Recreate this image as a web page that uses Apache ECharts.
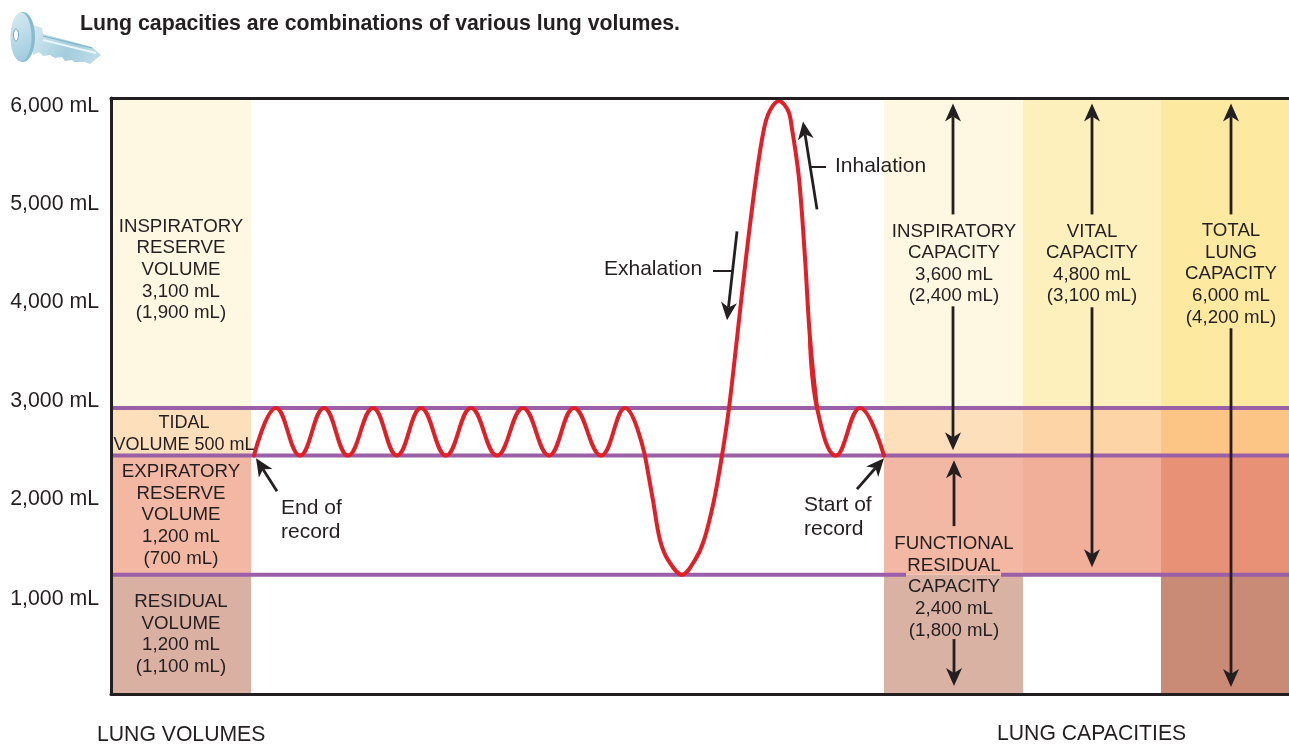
<!DOCTYPE html>
<html><head><meta charset="utf-8">
<style>html,body{margin:0;padding:0;background:#fff}#c{width:1289px;height:744px}</style>
<script src="https://cdn.jsdelivr.net/npm/echarts@6/dist/echarts.min.js"></script>
</head><body><div id="c"></div>
<script>
// ---- Data (x = arbitrary record position, y = lung volume in mL) ----
const yTicks = [0, 1000, 2000, 3000, 4000, 5000, 6000];
const levels = { residual: 1200, functional: 2400, tidalTop: 2880, top: 6000 };

// Columns of the shaded bands: [xStart, xEnd, colours bottom-to-top]
const columnVolumes  = [0, 140, ['#d9b0a2', '#f3b8a4', '#fedfbc', '#fef7e1']];
const columnInspFunc = [773, 912, ['#dab2a4', '#f3b8a4', '#fedfbc', '#fef7e1']];
const columnVital    = [912, 1050, ['#ffffff', '#f1af99', '#fdd4a6', '#fef0bd']];
const columnTotal    = [1050, 1178, ['#c98a76', '#e99176', '#fcc585', '#fee9a0']];

// Spirometer trace, in three stretches: quiet breathing, the deep breath, the last quiet breath
const quietX = [143, 165, 189, 213, 237, 262, 286, 310, 335, 360, 386, 412, 438, 463, 490, 514, 534];
const quietY = [2400, 2880, 2400, 2880, 2400, 2880, 2400, 2880, 2400, 2880, 2400, 2880, 2400, 2880, 2400, 2880, 2400];
const deepX = [534, 542, 549, 557, 571, 584, 593, 603, 611, 618, 626, 635, 645, 653, 659, 668, 677, 681, 688, 694, 699, 706];
const deepY = [2400, 1950, 1550, 1350, 1200, 1350, 1550, 1950, 2400, 2880, 3580, 4390, 5190, 5690, 5875, 5970, 5875, 5690, 5190, 4390, 3580, 2880];
const lastX = [699, 706, 725, 749, 773];
const lastY = [3580, 2880, 2400, 2880, 2400];

// Arrows as [fromX, fromY, toX, toY]
const arrows = [
  [842, 4828, 842, 5945], [842, 3903, 842, 2454],
  [843, 1690, 843, 2354], [843, 553, 843, 80],
  [981, 4828, 981, 5945], [981, 3893, 981, 1277],
  [1120, 4828, 1120, 5945], [1120, 3682, 1120, 70],
  [166, 2042, 145, 2374], [746, 2062, 773, 2374],
  [706, 4879, 692, 5764], [626, 4657, 616, 3762]
];
const leaders = [[700, 5311, 715, 5311], [602, 4265, 622, 4265]];

// Text annotations: text, x, y, align, fontSize, lineHeight
const notes = [
  ['INSPIRATORY\nRESERVE\nVOLUME\n3,100 mL\n(1,900 mL)', 70, 4270, 'center', 18.7, 21.6],
  ['TIDAL\nVOLUME 500 mL', 73, 2620, 'center', 18, 21.6],
  ['EXPIRATORY\nRESERVE\nVOLUME\n1,200 mL\n(700 mL)', 70, 1800, 'center', 18.7, 21.6],
  ['RESIDUAL\nVOLUME\n1,200 mL\n(1,100 mL)', 70, 600, 'center', 18.7, 21.6],
  ['End of\nrecord', 170, 1750, 'left', 21, 23.5],
  ['Start of\nrecord', 693, 1780, 'left', 21, 23.5],
  ['Inhalation', 724, 5311, 'left', 21, 23],
  ['Exhalation', 493, 4280, 'left', 21, 23],
  ['INSPIRATORY\nCAPACITY\n3,600 mL\n(2,400 mL)', 843, 4330, 'center', 18.7, 21.6],
  ['VITAL\nCAPACITY\n4,800 mL\n(3,100 mL)', 981, 4330, 'center', 18.7, 21.6],
  ['TOTAL\nLUNG\nCAPACITY\n6,000 mL\n(4,200 mL)', 1120, 4225, 'center', 18.7, 21.6],
  ['FUNCTIONAL\nRESIDUAL\nCAPACITY\n2,400 mL\n(1,800 mL)', 843, 1075, 'center', 18.7, 21.6]
];
const headline = 'Lung capacities are combinations of various lung volumes.';
const footerLeft = 'LUNG VOLUMES';
const footerRight = 'LUNG CAPACITIES';

// ---- Build ----
const FONT = '"Liberation Sans", Arial, Helvetica, sans-serif';
const INK = '#231f20';
const PURPLE = '#9b5fa8';
const steps = [0, levels.residual, levels.functional, levels.tidalTop, levels.top];
const bandData = [];
[columnVolumes, columnInspFunc, columnVital, columnTotal].forEach(c => {
  c[2].forEach((col, i) => bandData.push({ value: [c[0], c[1], steps[i], steps[i + 1]], color: col }));
});

function arrowItem(p, api) {
  const a = arrows[p.dataIndex];
  const s = api.coord([a[0], a[1]]), t = api.coord([a[2], a[3]]);
  const dx = t[0] - s[0], dy = t[1] - s[1], len = Math.hypot(dx, dy), ux = dx / len, uy = dy / len;
  const L = 18, W = 8, N = 13;
  const pt = (back, side) => [t[0] - ux * back - uy * side, t[1] - uy * back + ux * side];
  return {
    type: 'group',
    children: [
      { type: 'line', shape: { x1: s[0], y1: s[1], x2: pt(N, 0)[0], y2: pt(N, 0)[1] }, style: { stroke: INK, lineWidth: 2.8 } },
      { type: 'polygon', shape: { points: [t, pt(L, W), pt(N, 0), pt(L, -W)] }, style: { fill: INK } }
    ]
  };
}

// Each stretch of the trace is a smooth path through its read points, placed by the axes.
const stretches = [[quietX, quietY, 0.42], [deepX, deepY, 0.35], [lastX, lastY, 0.42]];
const traceData = [];
stretches.forEach(s => s[0].forEach((x, i) => traceData.push([x, s[1][i]])));
function traceItem(p, api) {
  if (p.dataIndex !== 0) return null;
  return {
    type: 'group',
    children: stretches.map(s => ({
      type: 'polyline',
      shape: { points: s[0].map((x, i) => api.coord([x, s[1][i]])), smooth: s[2] },
      style: { stroke: '#e01f26', lineWidth: 4, fill: null, lineJoin: 'round', lineCap: 'round' }
    }))
  };
}

// Tick labels sit slightly below their nominal level in the reference, more so near the top.
const tickStyle = v => v >= 6000 ? 't6' : v >= 5000 ? 't5' : v >= 3000 ? 't3' : 't1';
const tickRich = {};
[['t6', 17], ['t5', 13], ['t3', 11], ['t1', 8]].forEach(([k, h]) => {
  tickRich[k] = { fontFamily: FONT, fontSize: 21.3, color: INK, lineHeight: h };
});

const chart = echarts.init(document.getElementById('c'), null, { renderer: 'canvas' });
chart.setOption({
  animation: false,
  backgroundColor: '#fff',
  title: {
    text: headline, left: 75, top: 7,
    textStyle: { fontFamily: FONT, fontWeight: 'bold', fontSize: 21.3, color: INK, lineHeight: 24 }
  },
  grid: { left: 111, top: 98, right: 0, bottom: 50, containLabel: false },
  xAxis: [
    { type: 'value', min: 0, max: 1178, position: 'bottom', z: 10, axisLine: { lineStyle: { color: INK, width: 3 } }, axisTick: { show: false }, axisLabel: { show: false }, splitLine: { show: false } },
    { type: 'value', min: 0, max: 1178, position: 'top', z: 10, axisLine: { show: true, lineStyle: { color: INK, width: 3 } }, axisTick: { show: false }, axisLabel: { show: false }, splitLine: { show: false } }
  ],
  yAxis: {
    type: 'value', min: yTicks[0], max: yTicks[yTicks.length - 1], interval: 1000, z: 10,
    axisLine: { show: true, lineStyle: { color: INK, width: 3 } },
    axisTick: { show: false }, splitLine: { show: false },
    axisLabel: {
      showMinLabel: false, margin: 12, verticalAlign: 'top', rich: tickRich,
      fontFamily: FONT, fontSize: 21.3, color: INK,
      formatter: v => v === 0 ? '' : '{' + tickStyle(v) + '|' + v.toLocaleString('en-US') + ' mL}'
    }
  },
  series: [
    {
      type: 'custom', z: 1, clip: false, encode: { x: [0, 1], y: [2, 3] }, data: bandData,
      renderItem: (p, api) => {
        const a = api.coord([api.value(0), api.value(2)]), b = api.coord([api.value(1), api.value(3)]);
        return { type: 'rect', shape: { x: a[0], y: b[1], width: b[0] - a[0], height: a[1] - b[1] }, style: { fill: bandData[p.dataIndex].color } };
      }
    },
    {
      type: 'line', z: 3, showSymbol: false, symbol: 'none', connectNulls: false,
      lineStyle: { color: PURPLE, width: 4 },
      data: [[0, levels.tidalTop], [1178, levels.tidalTop]]
    },
    {
      type: 'line', z: 3, showSymbol: false, symbol: 'none',
      lineStyle: { color: PURPLE, width: 4 },
      data: [[0, levels.functional], [1178, levels.functional]]
    },
    {
      type: 'line', z: 3, showSymbol: false, symbol: 'none', connectNulls: false,
      lineStyle: { color: PURPLE, width: 4 },
      data: [[0, levels.residual], [795, levels.residual], [795, null], [890, null], [890, levels.residual], [1178, levels.residual]]
    },
    {
      type: 'custom', z: 4, clip: false, encode: { x: 0, y: 1 },
      data: traceData, renderItem: traceItem
    },
    {
      type: 'custom', z: 5, clip: false, encode: { x: [0, 2], y: [1, 3] },
      data: arrows, renderItem: arrowItem
    },
    {
      type: 'lines', coordinateSystem: 'cartesian2d', z: 5,
      symbol: 'none',
      lineStyle: { color: INK, width: 2, opacity: 1, curveness: 0 },
      data: leaders.map(a => ({ coords: [[a[0], a[1]], [a[2], a[3]]] }))
    },
    {
      type: 'custom', z: 6, clip: false, encode: { x: 0, y: 1 },
      data: notes.map(n => [n[1], n[2]]),
      renderItem: (p, api) => {
        const n = notes[p.dataIndex], c = api.coord([n[1], n[2]]);
        return {
          type: 'text', x: c[0], y: c[1],
          style: { text: n[0], fill: INK, font: n[4] + 'px ' + FONT, align: n[3], verticalAlign: 'middle', lineHeight: n[5] }
        };
      }
    }
  ],
  graphic: [
    { type: 'text', left: 97, top: 725, style: { text: footerLeft, fill: INK, font: '21.2px ' + FONT } },
    { type: 'text', left: 997, top: 724, style: { text: footerRight, fill: INK, font: '21.2px ' + FONT } },
    // Key icon
    { type: 'polygon', shape: { points: [[33,25],[42,28],[43,34],[92,47],[101,55],[90,64],[85,62],[74,62],[72,60],[65,61],[62,57],[55,58],[50,55],[43,56],[39,52],[33,55]] },
      style: { fill: new echarts.graphic.LinearGradient(0,0,1,1,[{offset:0,color:'#d6e9f0'},{offset:0.55,color:'#a2cddd'},{offset:1,color:'#c4e0ea'}]) } },
    { type: 'polyline', shape: { points: [[43,40],[96,53]] }, style: { stroke: '#eaf5f9', lineWidth: 2, fill: null } },
    { type: 'polyline', shape: { points: [[43,36],[92,48]] }, style: { stroke: '#7db2c9', lineWidth: 1, fill: null } },
    { type: 'ellipse', shape: { cx: 23, cy: 37, rx: 12, ry: 25 }, style: { fill: '#86bbd2' } },
    { type: 'ellipse', shape: { cx: 21, cy: 37, rx: 10.5, ry: 24.5 }, style: { fill: new echarts.graphic.LinearGradient(0,0,1,1,[{offset:0,color:'#d7ebf2'},{offset:1,color:'#9ccadd'}]) } },
    { type: 'ellipse', shape: { cx: 16, cy: 35, rx: 2.5, ry: 6 }, style: { fill: '#ffffff', stroke: '#6aa5bf', lineWidth: 1 } }
  ]
});
</script></body></html>
